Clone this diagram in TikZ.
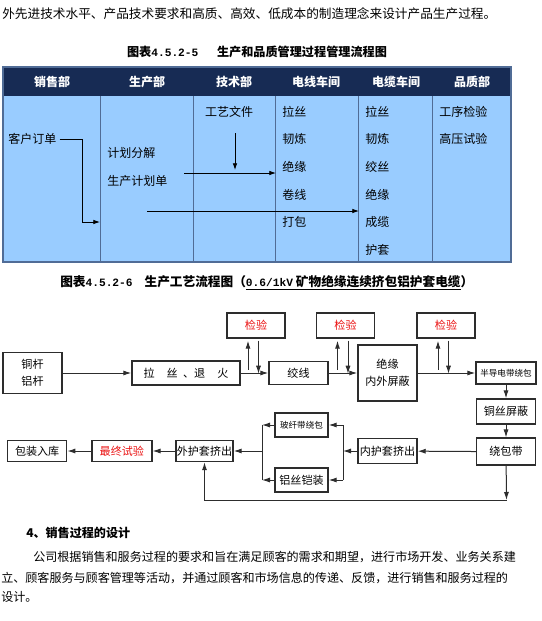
\documentclass[tikz,border=0pt]{standalone}
\usepackage{fontspec}
\usepackage{xcolor}
\usepackage{tikz}
\usetikzlibrary{arrows.meta, positioning, calc}
\newfontfamily\cjk{Noto Sans CJK SC}
\newfontfamily\capdigits{Liberation Mono}
\newcommand{\capnum}[1]{{\capdigits\bfseries\fontsize{8.4}{12}\selectfont #1}}
\definecolor{headnavy}{RGB}{23, 43, 84}
\definecolor{cellblue}{RGB}{153, 204, 255}
\definecolor{gridblue}{RGB}{80, 108, 150}
\definecolor{checkred}{RGB}{235, 20, 20}
\definecolor{darkgray}{RGB}{45, 45, 45}
\tikzset{
  bodytext/.style={anchor=west, inner sep=0pt, font=\cjk\fontsize{9.05}{12}\selectfont},
  caption/.style={inner sep=0pt, font=\cjk\bfseries\fontsize{9.1}{12}\selectfont},
  headcell/.style={text=white, inner sep=0pt, font=\cjk\bfseries\fontsize{9}{12}\selectfont},
  cell/.style={anchor=west, inner sep=0pt, font=\cjk\fontsize{9}{12}\selectfont},
  procbox/.style n args={2}{rectangle, draw=darkgray, line width=1.1pt, fill=white,
              minimum width=#1*0.75pt, minimum height=#2*0.75pt, inner sep=0pt,
              align=center, font=\cjk\fontsize{8.3}{13}\selectfont},
  smallbox/.style={font=\cjk\fontsize{6.4}{8}\selectfont},
  checkbox/.style={procbox={58}{25}, text=checkred},
  arrow/.style={-{Latex[length=6pt, width=3.8pt]}, line width=0.75pt, color=darkgray},
  tabarrow/.style={-{Latex[length=5pt, width=3.4pt]}, line width=0.6pt, color=black},
  link/.style={line width=0.75pt, color=darkgray},
}

\begin{document}
\begin{tikzpicture}[x=0.75pt, y=-0.75pt]
  \useasboundingbox (0,0) rectangle (542,621);
  \fill[white] (0,0) rectangle (542,621);

  \node[bodytext, font=\cjk\fontsize{9.5}{12}\selectfont] (intro) at (2,14)
        {外先进技术水平、产品技术要求和高质、高效、低成本的制造理念来设计产品生产过程。};
  \node[caption] (tabcap) at (257,52) {图表\capnum{4.5.2-5}\hspace{14pt}生产和品质管理过程管理流程图};

  % department table
  \fill[cellblue] (3,96) rectangle (511,262);
  \fill[headnavy] (3,67) rectangle (511,96);
  \foreach \x in {100,193,275,358,432}
    \draw[gridblue, line width=0.7pt] (\x,96) -- (\x,262);
  \draw[gridblue, line width=0.9pt] (3,67) rectangle (511,262);

  \foreach \x/\name/\txt in {52/sales/销售部, 147/prod/生产部, 234/tech/技术部,
                             316/wire/电线车间, 396/cable/电缆车间, 472/qual/品质部}
    \node[headcell] (\name) at (\x,82) {\txt};

  \node[cell] (order) at (8,139) {客户订单};
  \node[cell] (plansplit) at (107,153) {计划分解};
  \node[cell] (plansheet) at (107,181) {生产计划单};
  \node[cell, anchor=center] (craftdoc) at (229,112) {工艺文件};
  \foreach \y/\txt [count=\i] in {112/拉丝, 139/韧炼, 167/绝缘, 195/卷线, 222/打包}
    \node[cell] (wire\i) at (282,\y) {\txt};
  \foreach \y/\txt [count=\i] in {112/拉丝, 139/韧炼, 167/绞丝, 195/绝缘, 222/成缆, 250/护套}
    \node[cell] (cable\i) at (365,\y) {\txt};
  \node[cell] (qc1) at (439,112) {工序检验};
  \node[cell] (qc2) at (439,139) {高压试验};

  \coordinate (orderbend) at (82,139);
  \coordinate (prodin) at (100,222);
  \coordinate (docout) at (235,133);
  \coordinate (docin) at (235,170);
  \coordinate (planout) at (184,173);
  \coordinate (wirein) at (276,173);
  \coordinate (sheetout) at (147,211);
  \coordinate (cablein) at (359,211);
  \draw[tabarrow] ($(order.east)+(3,0)$) -- (orderbend) |- (prodin);
  \draw[tabarrow] (docout) -- (docin);
  \draw[tabarrow] (planout) -- (wirein);
  \draw[tabarrow] (sheetout) -- (cablein);

  \node[caption, anchor=west, font=\cjk\bfseries\fontsize{9.5}{12}\selectfont] (flowcap) at (60,283)
        {图表\capnum{4.5.2-6}\hspace{9pt}生产工艺流程图（\underline{\capnum{0.6/1kV} 矿物绝缘连续挤包铝护套电缆}）};

  % process flow
  \node[procbox={59}{41}] (rod) at (32.5,373) {铜杆\\铝杆};
  \node[procbox={108}{24}] (drawing) at (186,373) {拉\hspace{9pt}丝\hspace{4pt}、退\hspace{9pt}火};
  \node[procbox={59}{23}] (strand) at (298.5,373) {绞线};
  \node[procbox={59}{56}] (insul) at (387.5,373) {绝缘\\内外屏蔽};
  \node[procbox={60}{22}, smallbox] (semi) at (506,373) {半导电带绕包};
  \node[procbox={59}{25}, below=10.2pt of semi] (copper) {铜丝屏蔽};
  \node[procbox={59}{27}, below=9.5pt of copper] (tape) {绕包带};
  \node[procbox={59}{25}] (inner) at (387.5,451) {内护套挤出};
  \node[procbox={53}{24}, smallbox] (glass) at (301.5,425) {玻纤带绕包};
  \node[procbox={53}{24}] (armour) at (301.5,480) {铝丝铠装};
  \node[procbox={57}{21}] (outer) at (204.5,451) {外护套挤出};
  \node[procbox={60}{21}, text=checkred, left=17pt of outer] (final) {最终试验};
  \node[procbox={59}{21}, left=17.8pt of final] (pack) {包装入库};
  \node[checkbox] (check1) at (256,325.5) {检验};
  \node[checkbox] (check2) at (345.5,325.5) {检验};
  \node[checkbox] (check3) at (446,325.5) {检验};

  \coordinate (rbus) at (343,451);
  \coordinate (lbus) at (262,451);
  \coordinate (loop) at (506.5,500);

  \draw[arrow] (rod) -- (drawing);
  \draw[arrow] (drawing) -- (strand);
  \draw[arrow] (strand) -- (insul);
  \draw[arrow] (insul) -- (semi);
  \draw[arrow] (semi) -- (copper);
  \draw[arrow] (copper) -- (tape);
  \draw[arrow] (tape) -- (inner);
  \draw[arrow] (inner) -- (rbus);
  \draw[link] (glass.east -| rbus) -- (armour.east -| rbus);
  \draw[arrow] (glass.east -| rbus) -- (glass.east);
  \draw[arrow] (armour.east -| rbus) -- (armour.east);
  \draw[arrow] (glass.west) -- (glass.west -| lbus);
  \draw[arrow] (armour.west) -- (armour.west -| lbus);
  \draw[link] (glass.west -| lbus) -- (armour.west -| lbus);
  \draw[arrow] (lbus) -- (outer);
  \draw[arrow] (outer) -- (final);
  \draw[arrow] (final) -- (pack);
  \draw[arrow] (tape) -- (loop);
  \draw[arrow] (loop) -| (outer);
  \foreach \c in {check1, check2, check3} {
    \draw[arrow] ($(\c.south)+(-8,31)$) -- ($(\c.south)+(-8,2)$);
    \draw[arrow] ($(\c.south)+(2.5,2)$) -- ($(\c.south)+(2.5,35)$);
  }

  \node[bodytext, font=\cjk\bfseries\fontsize{9.05}{12}\selectfont] (sechead) at (26,533) {4、销售过程的设计};
  \node[bodytext] (para1) at (33,557)
        {公司根据销售和服务过程的要求和旨在满足顾客的需求和期望，进行市场开发、业务关系建};
  \node[bodytext] (para2) at (1,578)
        {立、顾客服务与顾客管理等活动，并通过顾客和市场信息的传递、反馈，进行销售和服务过程的};
  \node[bodytext] (para3) at (1,597) {设计。};
\end{tikzpicture}
\end{document}
